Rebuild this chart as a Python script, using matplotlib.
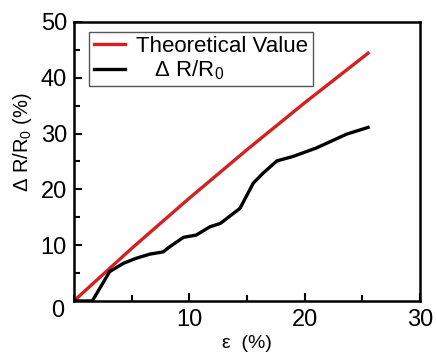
import matplotlib
matplotlib.use("Agg")
import matplotlib.pyplot as plt
from matplotlib.ticker import MultipleLocator

plt.rcParams['font.family'] = ['Liberation Sans', 'DejaVu Sans']
plt.rcParams['mathtext.fontset'] = 'custom'
plt.rcParams['mathtext.rm'] = 'Liberation Sans'
plt.rcParams['mathtext.it'] = 'Liberation Sans'

# Data
theory_x = [0, 5, 10, 15, 20, 25.5]
theory_y = [0, 9.4, 18.4, 27.1, 35.5, 44.4]

meas_x = [0, 1.6, 3.1, 4.3, 5.4, 6.6, 7.75, 8.3, 9.5, 10.6, 11.8, 12.7, 14.4,
          15.55, 16.4, 17.6, 19.0, 21.0, 23.65, 25.5]
meas_y = [0, 0, 5.25, 6.75, 7.65, 8.4, 8.8, 9.7, 11.4, 11.8, 13.3, 13.9, 16.6,
          21.1, 22.9, 25.1, 25.9, 27.4, 29.9, 31.1]

fig = plt.figure(figsize=(4.37, 3.60), dpi=100)
ax = fig.add_axes([0.169, 0.164, 0.792, 0.775])

ax.plot(theory_x, theory_y, color='#d42020', lw=2.4, label='Theoretical Value')
ax.plot(meas_x, meas_y, color='black', lw=2.4, label='   Δ R/R$_0$')

ax.set_xlim(0, 30)
ax.set_ylim(0, 50)
ax.xaxis.set_major_locator(MultipleLocator(10))
ax.xaxis.set_minor_locator(MultipleLocator(5))
ax.yaxis.set_major_locator(MultipleLocator(10))
ax.yaxis.set_minor_locator(MultipleLocator(5))
ax.tick_params(which='both', direction='in', top=False, right=False, width=1.5)
ax.tick_params(which='major', length=6)
ax.tick_params(which='minor', length=4)
ax.tick_params(axis='x', labelsize=17, pad=6)
ax.tick_params(axis='y', labelsize=17, pad=5)
for s in ax.spines.values():
    s.set_linewidth(1.8)

ax.set_xticks([10, 20, 30])
ax.set_xticklabels(['10', '20', '30'])
ax.set_yticks([10, 20, 30, 40, 50])
ax.set_yticklabels(['10', '20', '30', '40', '50'])
ax.text(-0.046, -0.036, '0', transform=ax.transAxes, fontsize=17,
        ha='center', va='center')

ax.set_xlabel('ε  (%)', fontsize=14, labelpad=3)
ax.set_ylabel('Δ R/R$_0$ (%)', fontsize=14.5, labelpad=0)
ax.yaxis.set_label_coords(-0.115, 0.57)

leg = ax.legend(loc='upper left', bbox_to_anchor=(0.045, 0.965), fontsize=16,
                handlelength=1.4, handletextpad=0.5, labelspacing=0.05,
                borderpad=0.2, borderaxespad=0, fancybox=False, framealpha=1)
leg.get_frame().set_edgecolor('#555555')
leg.get_frame().set_linewidth(1.0)

fig.savefig('out.png', dpi=100)
